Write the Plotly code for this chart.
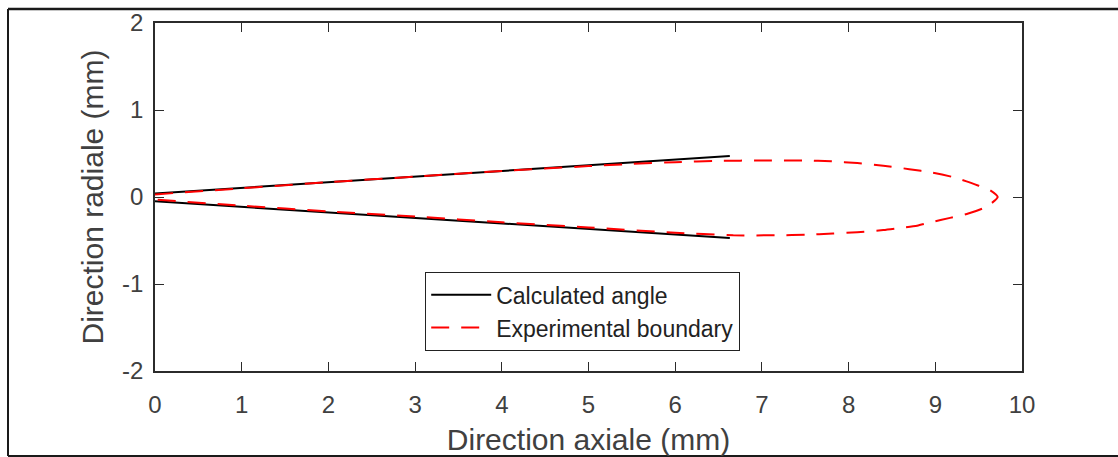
import plotly.graph_objects as go

# Calculated angle (two straight lines, separated by a gap)
calc_x = [0.0, 6.63, None, 0.0, 6.63]
calc_y = [0.04, 0.47, None, -0.05, -0.47]

# Experimental boundary (closed contour)
exp_x = [0.0, 1.0, 2.0, 3.0, 4.0, 5.0, 5.5, 6.0, 6.5, 7.0, 7.5, 7.8, 8.1, 8.4, 8.7, 8.97,
         9.2, 9.36, 9.5, 9.63, 9.72, 9.65, 9.55, 9.38, 9.17, 8.95, 8.79, 8.6, 8.4, 8.1,
         7.82, 7.5, 7.2, 6.67, 6.0, 5.0, 4.0, 3.0, 2.0, 1.0, 0.0]
exp_y = [0.03, 0.10, 0.17, 0.235, 0.30, 0.355, 0.38, 0.40, 0.415, 0.42, 0.42, 0.41, 0.39,
         0.36, 0.32, 0.28, 0.23, 0.18, 0.13, 0.08, 0.0, -0.07, -0.13, -0.19, -0.24, -0.29,
         -0.33, -0.355, -0.38, -0.405, -0.42, -0.435, -0.44, -0.44, -0.41, -0.35, -0.29,
         -0.225, -0.165, -0.10, -0.03]

x_ticks = [0, 1, 2, 3, 4, 5, 6, 7, 8, 9, 10]
x_tick_text = ["0", "1", "2", "3", "4", "5", "6", "7", "8", "9", "10"]
y_ticks = [-2, -1, 0, 1, 2]
y_tick_text = ["-2", "-1", "0", "1", "2"]

W, H = 1118, 457
L, R, T, B = 155, 96, 23, 86
pw, ph = W - L - R, H - T - B

def px(x):
    return (x - L) / pw

def py(y):
    return (H - B - y) / ph

font = "Liberation Sans, Arial, sans-serif"
txt = "#404040"
axc = "#2b2b2b"

fig = go.Figure()
fig.add_trace(go.Scatter(x=calc_x, y=calc_y, mode="lines", name="Calculated angle",
                         line=dict(color="black", width=2)))
fig.add_trace(go.Scatter(x=exp_x, y=exp_y, mode="lines", name="Experimental boundary",
                         line=dict(color="#ff0000", width=2, dash="18px,12px",
                                   shape="spline", smoothing=0.6)))

axis_common = dict(showgrid=False, zeroline=False, showline=True, linecolor=axc,
                   linewidth=1.5, mirror="ticks", ticks="inside", ticklen=9,
                   tickcolor=axc, tickwidth=1.2,
                   tickfont=dict(family=font, size=24, color=txt))

fig.update_layout(
    width=W, height=H,
    margin=dict(l=L, r=R, t=T, b=B, autoexpand=False),
    paper_bgcolor="white", plot_bgcolor="white",
    xaxis=dict(range=[0, 10], tickvals=x_ticks, ticktext=x_tick_text,
               ticklabelstandoff=11, **axis_common,
               title=dict(text="Direction axiale (mm)",
                          font=dict(family=font, size=30, color=txt), standoff=12)),
    yaxis=dict(range=[-2, 2], tickvals=y_ticks, ticktext=y_tick_text,
               ticklabelstandoff=5, **axis_common,
               title=dict(text="Direction radiale (mm)",
                          font=dict(family=font, size=30, color=txt), standoff=10)),
    legend=dict(x=px(425), y=py(272), xanchor="left", yanchor="top",
                bgcolor="white", bordercolor="#222222", borderwidth=1.2,
                font=dict(family=font, size=23, color="#222222"),
                itemwidth=60, tracegroupgap=0),
    showlegend=True,
    shapes=[
        dict(type="line", xref="paper", yref="paper", x0=px(8), x1=px(1125),
             y0=py(9), y1=py(9), line=dict(color="#1a1a1a", width=2.5)),
        dict(type="line", xref="paper", yref="paper", x0=px(8), x1=px(8),
             y0=py(9), y1=py(456), line=dict(color="#1a1a1a", width=2)),
        dict(type="line", xref="paper", yref="paper", x0=px(8), x1=px(1125),
             y0=py(456), y1=py(456), line=dict(color="#1a1a1a", width=2)),
    ],
)

fig.write_html("out.html")
